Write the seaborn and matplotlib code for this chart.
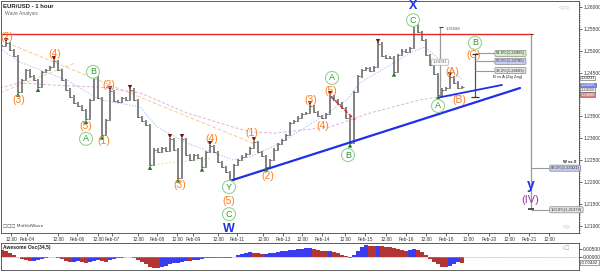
import numpy as np
import matplotlib
matplotlib.use("Agg")
import matplotlib.pyplot as plt
import seaborn as sns
from matplotlib.transforms import blended_transform_factory
from matplotlib.ticker import MultipleLocator

sns.set_style("white")
plt.rcParams['font.family'] = ['Liberation Sans', 'DejaVu Sans']

# ---------------- data ----------------
close = [1.2511, 1.2518, 1.2502, 1.2488, 1.2406, 1.2433, 1.2456, 1.2442, 1.2433, 1.2417,
         1.2452, 1.2456, 1.2463, 1.2477, 1.2456, 1.2433, 1.2411, 1.2395, 1.2381, 1.2374,
         1.2365, 1.2344, 1.2388, 1.2440, 1.2392, 1.2308, 1.2342, 1.2408, 1.2385, 1.2383,
         1.2392, 1.2388, 1.2411, 1.2388, 1.2349, 1.2340, 1.2331, 1.2239, 1.2274, 1.2269,
         1.2278, 1.2271, 1.2299, 1.2274, 1.2210, 1.2299, 1.2262, 1.2251, 1.2262, 1.2255,
         1.2235, 1.2269, 1.2283, 1.2269, 1.2246, 1.2235, 1.2223, 1.2205, 1.2239, 1.2251,
         1.2258, 1.2264, 1.2278, 1.2292, 1.2269, 1.2260, 1.2235, 1.2251, 1.2274, 1.2287,
         1.2296, 1.2308, 1.2335, 1.2340, 1.2347, 1.2356, 1.2358, 1.2374, 1.2360, 1.2351,
         1.2347, 1.2356, 1.2397, 1.2388, 1.2379, 1.2369, 1.2347, 1.2290, 1.2406, 1.2442,
         1.2456, 1.2461, 1.2454, 1.2463, 1.2516, 1.2488, 1.2484, 1.2484, 1.2452, 1.2490,
         1.2500, 1.2497, 1.2506, 1.2559, 1.2543, 1.2525, 1.2490, 1.2468, 1.2447, 1.2399,
         1.2411, 1.2415, 1.2440, 1.2427, 1.2415, 1.2417]

ao = [0.0045, 0.0038, 0.0028, 0.0015, 0.0002, -0.0012, -0.0020, -0.0026, -0.0022, -0.0016,
      -0.0010, -0.0006, -0.0002, 0.0002, -0.0005, -0.0015, -0.0025, -0.0032, -0.0030, -0.0024,
      -0.0030, -0.0036, -0.0032, -0.0022, -0.0018, -0.0026, -0.0030, -0.0020, -0.0010, -0.0005,
      -0.0003, -0.0002, -0.0001, -0.0005, -0.0018, -0.0032, -0.0045, -0.0060, -0.0068, -0.0070,
      -0.0063, -0.0055, -0.0045, -0.0036, -0.0035, -0.0028, -0.0022, -0.0025, -0.0020, -0.0016,
      -0.0012, -0.0008, -0.0005, -0.0003, -0.0005, -0.0008, -0.0009, -0.0006, 0.0003, 0.0012,
      0.0020, 0.0028, 0.0030, 0.0026, 0.0022, 0.0018, 0.0020, 0.0024, 0.0028, 0.0033,
      0.0036, 0.0038, 0.0042, 0.0046, 0.0050, 0.0052, 0.0055, 0.0056, 0.0050, 0.0043,
      0.0037, 0.0035, 0.0036, 0.0030, 0.0024, 0.0015, 0.0006, -0.0008, 0.0015, 0.0040,
      0.0060, 0.0072, 0.0070, 0.0066, 0.0070, 0.0068, 0.0065, 0.0060, 0.0054, 0.0048,
      0.0043, 0.0040, 0.0044, 0.0052, 0.0046, 0.0032, 0.0012, -0.0010, -0.0028, -0.0045,
      -0.0060, -0.0065, -0.0055, -0.0042, -0.0030, -0.0035]

high_idx = [1, 13, 23, 27, 32, 42, 45, 52, 63, 77, 82, 94, 103, 112]
low_idx = [4, 9, 21, 25, 37, 44, 50, 57, 66, 87, 98, 109]

fast_ma_x = [0, 4.5, 16.25, 24.5, 34.5, 38.75, 46.25, 57.75, 62, 69.5, 78.75, 86.25, 89.5, 96.25, 102, 105.75, 109.5, 115.25]
fast_ma_y = [1.2502, 1.2474, 1.2433, 1.2388, 1.2372, 1.2326, 1.2289, 1.2251, 1.2258, 1.2289, 1.2342, 1.2388, 1.2427, 1.2463, 1.2495, 1.2509, 1.2479, 1.2433]
slow_ma_x = [-0.5, 4.5, 12, 24.5, 34.5, 46.25, 57.75, 62, 68.25, 82, 92, 104.5, 109.5, 115]
slow_ma_y = [1.2415, 1.2427, 1.2422, 1.2417, 1.2404, 1.2358, 1.2326, 1.2315, 1.2312, 1.2326, 1.2358, 1.2388, 1.2395, 1.2397]

tick_pos = [2.25, 6.25, 14, 18.75, 24, 27.5, 34, 38.75, 43.75, 47.75, 54, 58.75, 65.25, 70.25,
            75, 80, 85.75, 90.75, 96, 101, 106, 111, 116.5, 121.75, 126.75, 131.75, 136.75]
tick_labels = ["12:00", "Feb-04", "12:00", "Feb-06", "12:00", "Feb-07", "12:00", "Feb-08",
               "12:00", "Feb-09", "12:00", "Feb-11", "12:00", "Feb-13", "12:00", "Feb-14",
               "12:00", "Feb-15", "12:00", "Feb-16", "12:00", "Feb-18", "12:00", "Feb-20",
               "12:00", "Feb-21", "12:00"]
price_ticks = [1.21, 1.215, 1.22, 1.225, 1.23, 1.235, 1.24, 1.245, 1.25, 1.255, 1.26]
price_tick_labels = ["1.21000", "1.21500", "1.22000", "1.22500", "1.23000", "1.23500", "",
                     "1.24500", "1.25000", "1.25500", "1.26000"]

orange_labels = ["(2)", "(3)", "(4)", "(5)", "(1)", "(2)", "(3)", "(4)", "(5)", "(1)", "(2)",
                 "(3)", "(4)", "(5)", "(A)", "(B)", "(C)"]
orange_x = [1.25, 4.25, 13.25, 21, 25.5, 26.75, 44.5, 52.5, 56.75, 62.5, 66.5, 77.25, 80.25, 82.25, 112.5, 114.25, 118]
orange_y = [1.2532, 1.2388, 1.2493, 1.2328, 1.2294, 1.2422, 1.2194, 1.2299, 1.2157, 1.2312, 1.2214,
            1.2388, 1.2328, 1.2408, 1.2452, 1.2388, 1.2490]
green_labels = ["B", "A", "Y", "C", "A", "B", "C", "A", "B"]
green_x = [22.75, 21, 56.75, 56.75, 82.5, 86.5, 102.75, 109, 118.25]
green_y = [1.2452, 1.2299, 1.2189, 1.2127, 1.2438, 1.2262, 1.2570, 1.2374, 1.2518]

# ---------------- figure ----------------
fig = plt.figure(figsize=(6, 2.72), dpi=100)
ax = fig.add_axes([1/600, 39/272, 578/600, 232/272])
ax2 = fig.add_axes([1/600, 2/272, 578/600, 27/272])

n = len(close)
idx = np.arange(n)
wick = 0.0003
for i in range(n):
    prev = close[i - 1] if i > 0 else close[i]
    lo = min(prev, close[i]) - wick
    hi = max(prev, close[i]) + wick
    ax.vlines(i, lo, hi, color="#606060", lw=1.1, zorder=3)
    ax.hlines(close[i], i, i + 0.45, color="#606060", lw=0.6, zorder=3)
    ax.hlines(prev, i - 0.45, i, color="#909090", lw=0.6, zorder=3)

# moving averages / lines
sns.lineplot(x=fast_ma_x, y=fast_ma_y, ax=ax, color="#a9c4f5", lw=0.7, ls=(0, (1.5, 1.5)), zorder=2)
sns.lineplot(x=slow_ma_x, y=slow_ma_y, ax=ax, color="#dcb0e0", lw=0.7, ls=(0, (3, 2)), zorder=2)
sns.lineplot(x=[1.25, 63.25], y=[1.2518, 1.2287], ax=ax, color="#f7c99a", lw=0.7, ls=(0, (4, 2)), zorder=2)
sns.lineplot(x=[-0.5, 18.25], y=[1.2404, 1.2472], ax=ax, color="#e8d2a8", lw=0.7, ls=(0, (4, 2)), zorder=2)
sns.lineplot(x=[37, 52], y=[1.2239, 1.2254], ax=ax, color="#d8e0a0", lw=0.7, ls=(0, (2, 2)), zorder=2)
sns.lineplot(x=[57, 129.5], y=[1.2203, 1.2415], ax=ax, color="#1f2fe8", lw=1.6, zorder=4)
sns.lineplot(x=[109, 125], y=[1.2393, 1.2422], ax=ax, color="#1f2fe8", lw=1.3, zorder=4)
sns.lineplot(x=[82.25, 88.25], y=[1.2395, 1.2342], ax=ax, color="#e02020", lw=1.0, ls=(0, (3, 1.5)), zorder=4)
ax.hlines(1.2538, -0.5, 132.3, color="#e02a2a", lw=1.0, zorder=4)

# pivot markers
hy = [close[i] + wick + 0.0003 for i in high_idx]
ly = [close[i] - wick - 0.0003 for i in low_idx]
sns.scatterplot(x=high_idx, y=hy, ax=ax, marker="v", s=10, color="#7a1010", edgecolor="none", zorder=5)
sns.scatterplot(x=low_idx, y=ly, ax=ax, marker="^", s=10, color="#1d7a1d", edgecolor="none", zorder=5)

# wave labels
for t, x, y in zip(orange_labels, orange_x, orange_y):
    ax.text(x, y, t, color="#ff7f1e", fontsize=7.5, ha="center", va="center", zorder=6)
for t, x, y in zip(green_labels, green_x, green_y):
    ax.text(x, y, t, color="#2b9a2b", fontsize=6.5, ha="center", va="center", zorder=6,
            bbox=dict(boxstyle="circle,pad=0.22", fc="white", ec="#93d493", lw=0.8))
ax.text(102.75, 1.2602, "X", color="#1f2fe8", fontsize=9, fontweight="bold", ha="center", va="center")
ax.text(56.75, 1.2093, "W", color="#1f2fe8", fontsize=9, fontweight="bold", ha="center", va="center")
ax.text(132.25, 1.2194, "y", color="#1f2fe8", fontsize=10, fontweight="bold", ha="center", va="center")
ax.text(132.0, 1.2159, "(IV)", color="#9b3fa0", fontsize=8, ha="center", va="center")

# fibonacci tools
gray = "#9a9a9a"
ax.vlines(109.5, 1.2395, 1.2554, color=gray, lw=0.9, zorder=2)
ax.hlines(1.2554, 109.2, 110.3, color="#444", lw=0.8)
ax.text(111, 1.2549, "1.25588", fontsize=3.0, color="#555", va="center")
ax.text(109.5, 1.2474, "1.24741", fontsize=3.0, color="#555", ha="center", va="center",
        bbox=dict(boxstyle="round,pad=0.25", fc="white", ec="#aaa", lw=0.5))

ax.vlines(118.25, 1.2395, 1.2492, color="#555", lw=0.9, zorder=2)
ax.hlines(1.2395, 117.3, 119.2, color="#333", lw=0.9)
ax.hlines(1.2492, 117.6, 118.9, color="#333", lw=0.9)
fib_y = [1.2494, 1.2476, 1.2455]
fib_t = ["61.8%(1.24966)", "50.0%(1.24785)", "38.2%(1.24603)"]
fib_c = ["#d7efc8", "#c9cdf2", "#e4e4e4"]
for y, t, c in zip(fib_y, fib_t, fib_c):
    ax.hlines(y, 118.25, 123.3, color=gray, lw=0.8)
    ax.text(123.5, y, t, fontsize=3.0, color="#333", va="center",
            bbox=dict(boxstyle="round,pad=0.25", fc=c, ec="#888", lw=0.5))
ax.text(126.5, 1.2440, "B vs A (Zig Zag)", fontsize=3.0, color="#222", va="center", ha="center")

ax.vlines(132.3, 1.2138, 1.2538, color=gray, lw=0.9, zorder=2)
ax.hlines(1.2538, 131.8, 132.8, color="#333", lw=0.8)
ax.hlines(1.2138, 131.6, 133.0, color="#333", lw=1.2)
ax.hlines(1.2232, 132.3, 137.0, color=gray, lw=0.8)
ax.text(137.2, 1.2232, "88.2%(1.22321)", fontsize=3.0, color="#333", va="center",
        bbox=dict(boxstyle="round,pad=0.25", fc="#c9cdf2", ec="#888", lw=0.5))
ax.text(142.0, 1.2246, "W vs X", fontsize=3.0, color="#222", va="center", ha="center", fontweight="bold")
ax.hlines(1.2137, 132.3, 137.0, color=gray, lw=0.8)
ax.text(137.2, 1.2137, "100.0%(1.21379)", fontsize=3.0, color="#333", va="center",
        bbox=dict(boxstyle="round,pad=0.25", fc="#e4e4e4", ec="#888", lw=0.5))

# titles / small texts
ax.text(0.004, 0.985, "EUR/USD - 1 hour", transform=ax.transAxes, fontsize=4.3,
        fontweight="bold", va="top", ha="left", color="#222")
ax.text(0.007, 0.955, "Wave Analysis", transform=ax.transAxes, fontsize=3.6,
        va="top", ha="left", color="#666")
ax.text(0.004, 0.025, "□□□ MidVolWave", transform=ax.transAxes, fontsize=3.2,
        va="bottom", ha="left", color="#444", family=["DejaVu Sans"])
ax.text(0.985, 0.985, "◇◇◇", transform=ax.transAxes, fontsize=3.5, va="top", ha="right",
        color="#999", family=["DejaVu Sans"])
ax.text(0.985, 0.02, "◇◇", transform=ax.transAxes, fontsize=3.5, va="bottom", ha="right",
        color="#999", family=["DejaVu Sans"])

# axes formatting (main)
ax.set_xlim(-0.25, 144.25)
ax.set_ylim(1.2084, 1.26137)
ax.set_xlabel("")
ax.set_ylabel("")
ax.yaxis.tick_right()
ax.set_yticks(price_ticks)
ax.set_yticklabels(price_tick_labels, fontsize=3.5, color="#333")
ax.yaxis.set_minor_locator(MultipleLocator(0.0005))
ax.tick_params(axis="y", which="major", length=2, width=0.5, pad=1, direction="out", right=True)
ax.tick_params(axis="y", which="minor", length=1.0, width=0.4, right=True)
ax.set_xticks(tick_pos)
ax.set_xticklabels(tick_labels, fontsize=3.4, color="#333")
ax.tick_params(axis="x", length=2, width=0.5, pad=0.8, direction="out", bottom=True)
for s in ax.spines.values():
    s.set_color("#444")
    s.set_linewidth(0.6)

# right axis value boxes
tr = blended_transform_factory(ax.transAxes, ax.transData)
for y, t, fc, tc in [(1.2438, "1.24211", "white", "#222"), (1.2422, "1.24165", "#7b86e6", "white"),
                     (1.2411, "1.24150", "white", "#222"), (1.2400, "1.24090", "#e08080", "white")]:
    ax.text(1.003, y, t, transform=tr, fontsize=2.9, color=tc, va="center", ha="left",
            bbox=dict(boxstyle="square,pad=0.08", fc=fc, ec="#555", lw=0.4), clip_on=False, zorder=7)

# ---------------- oscillator ----------------
cols = ["#3b3bf0" if (i > 0 and ao[i] >= ao[i - 1]) else "#b23434" for i in range(n)]
ax2.bar(idx, ao, width=0.85, color=cols, linewidth=0)
ax2.axhline(0, color="#aaaaaa", lw=0.6, ls=(0, (1, 1)))
ax2.set_xlim(-0.25, 144.25)
ax2.set_ylim(-0.0081, 0.00875)
ax2.set_xticks([])
ax2.yaxis.tick_right()
ax2.set_yticks([0.005, 0.0])
ax2.set_yticklabels(["0.00500", "0.00000"], fontsize=3.5, color="#333")
ax2.tick_params(axis="y", length=2, width=0.5, pad=1, right=True)
for s in ax2.spines.values():
    s.set_color("#444")
    s.set_linewidth(0.6)
ax2.text(0.003, 0.93, "Awesome Osc(34,5)", transform=ax2.transAxes, fontsize=3.6,
         fontweight="bold", va="top", ha="left", color="#222")
ax2.text(0.985, 0.93, "◇□", transform=ax2.transAxes, fontsize=3.5, va="top", ha="right",
         color="#999", family=["DejaVu Sans"])
tr2 = blended_transform_factory(ax2.transAxes, ax2.transData)
ax2.text(1.003, ao[-1], "-0.00442", transform=tr2, fontsize=3.2, color="#222", va="center",
         ha="left", bbox=dict(boxstyle="square,pad=0.12", fc="white", ec="#555", lw=0.4), clip_on=False)

fig.savefig("out.png", dpi=100)
